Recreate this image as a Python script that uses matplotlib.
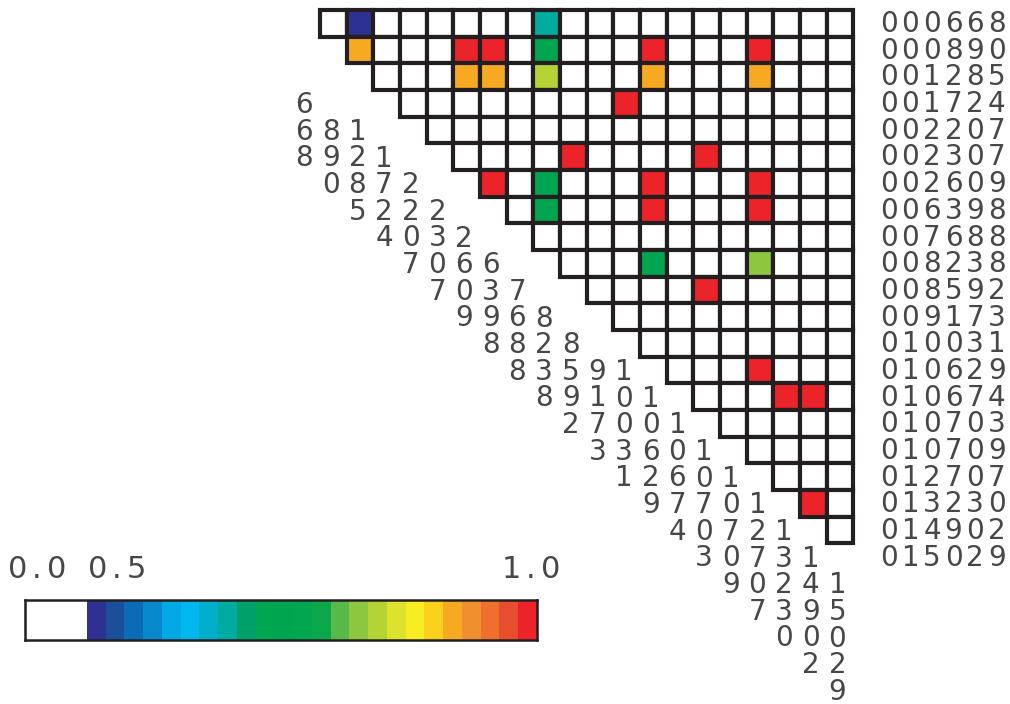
import matplotlib
matplotlib.use('Agg')
import matplotlib.pyplot as plt
from matplotlib.patches import Rectangle
from matplotlib.colors import ListedColormap, BoundaryNorm
import numpy as np

# sample ids, used as rows and columns of the triangle
ids = ['000668', '000890', '001285', '001724', '002207', '002307', '002609',
       '006398', '007688', '008238', '008592', '009173', '010031', '010629',
       '010674', '010703', '010709', '012707', '013230', '014902', '015029']

# coloured pairs (row id index, column id index, value); every other pair is < 0.5
pair_rows = [0, 0, 1, 1, 1, 1, 1, 1, 2, 2, 2, 2, 2, 3, 5, 5, 6, 6, 6, 6,
             7, 7, 7, 9, 9, 10, 13, 14, 14, 18]
pair_cols = [2, 9, 2, 6, 7, 9, 13, 17, 6, 7, 9, 13, 17, 12, 10, 15, 7, 9, 13, 17,
             9, 13, 17, 13, 17, 15, 17, 18, 19, 19]
pair_vals = [0.51, 0.66, 0.91, 0.99, 0.99, 0.72, 0.99, 0.99, 0.91, 0.91, 0.82, 0.91, 0.91,
             0.99, 0.99, 0.99, 0.99, 0.72, 0.99, 0.99, 0.72, 0.99, 0.99, 0.72, 0.80,
             0.99, 0.99, 0.99, 0.99, 0.99]

# colour scale: white below 0.5, then 24 steps up to 1.0
scale_colors = ['#2e3192', '#1b4f9c', '#0b6bb5', '#0787cc', '#00a8e6', '#00b8ee',
                '#00aecb', '#00aba0', '#00a06a', '#00a650', '#00a551', '#00a650',
                '#0ba84a', '#57b947', '#8dc63f', '#b5d334', '#dde32d', '#f8ed23',
                '#fbd11c', '#f7aa21', '#f18f2f', '#ef6f2d', '#e84d2e', '#ec242a']
scale_labels = ['0.0', '0.5', '1.0']

TXT = '#474747'
LINE = '#231f20'

n = len(ids)
bounds = np.linspace(0.5, 1.0, len(scale_colors) + 1)
cmap = ListedColormap(scale_colors)
cmap.set_under('white')
norm = BoundaryNorm(bounds, cmap.N)

values = np.zeros((n, n))
values[pair_rows, pair_cols] = pair_vals


def spaced_text(ax, x, y, s, step, **kw):
    # draw a string one character at a time with a fixed pitch
    for c, ch in enumerate(s):
        if ch != ' ':
            ax.text(x + c * step, y, ch, ha='center', va='baseline', **kw)


fig = plt.figure(figsize=(10.10, 7.04), dpi=100)
ax = fig.add_axes([0, 0, 1, 1])
ax.set_xlim(-12.0, 25.875)
ax.set_ylim(26.02, -0.375)
ax.axis('off')

# triangle of cells: row i holds the pairs (i, j) with j > i
for i in range(n - 1):
    for j in range(i + 1, n):
        ax.add_patch(Rectangle((j - 1, i), 1, 1, facecolor=cmap(norm(values[i, j])),
                               edgecolor=LINE, linewidth=3.0))

# row labels on the right
for i, name in enumerate(ids):
    spaced_text(ax, 21.33, i + 0.45 + 0.38, name, 0.81, fontsize=20, color=TXT)

# column labels written downwards along the diagonal, leading zeros dropped
for k, name in enumerate(ids):
    s = name.lstrip('0').rjust(len(name))
    for d, ch in enumerate(s):
        if ch != ' ':
            ax.text(k - 0.6, k + d * 0.995 + 0.50 + 0.38, ch, ha='center', va='baseline',
                    fontsize=20, color=TXT)

# colour bar
cax = fig.add_axes([25 / 1010, 1 - 640 / 704, 512 / 1010, 40 / 704])
white_w = 3.3
xedges = np.r_[-white_w, np.arange(len(scale_colors) + 1)]
mids = np.r_[0.25, (bounds[:-1] + bounds[1:]) / 2]
cax.pcolormesh(xedges, [0, 1], mids[np.newaxis, :], cmap=cmap, norm=norm)
cax.set_xlim(-white_w, len(scale_colors))
cax.set_ylim(0, 1)
cax.set_xticks([])
cax.set_yticks([])
for sp in cax.spines.values():
    sp.set_linewidth(1.8)
    sp.set_color(LINE)

label_x = [37, 117, 531]
for lx, lab in zip(label_x, scale_labels):
    spaced_text(fig, (lx - 19.5) / 1010, 1 - 578 / 704, lab, 19.5 / 1010,
                fontsize=22, color=TXT)

fig.savefig('out.png', dpi=100)
